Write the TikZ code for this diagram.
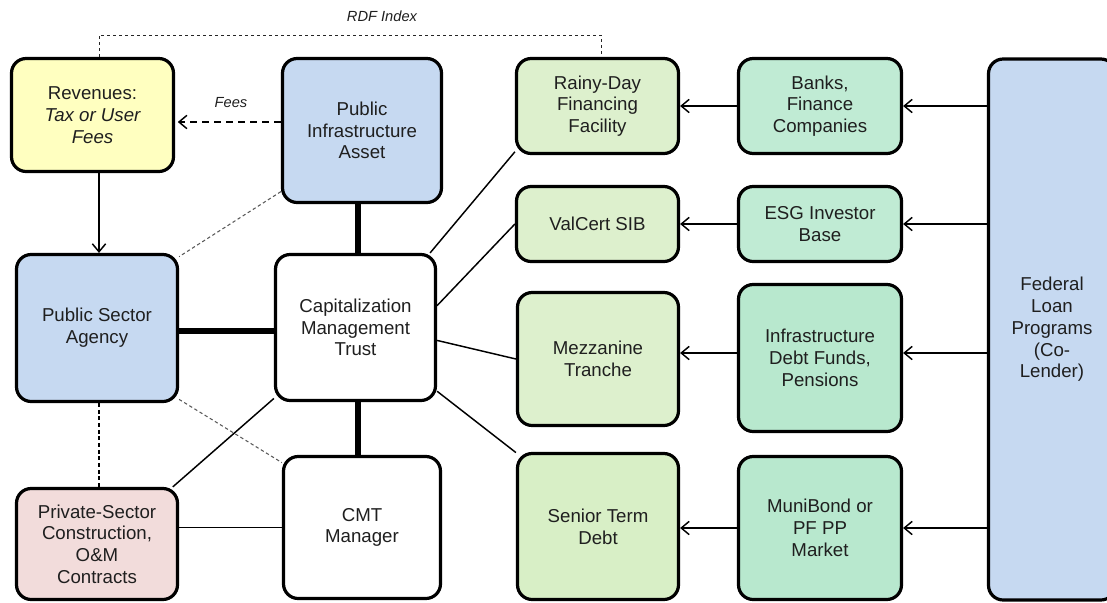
\documentclass[tikz,border=0pt]{standalone}
\usepackage{fontspec}
\setmainfont{Liberation Sans}
\usetikzlibrary{arrows.meta,calc}
\definecolor{cyel}{HTML}{FFFFC0}
\definecolor{cblue}{HTML}{C6D9F1}
\definecolor{cgreenA}{HTML}{DDF0CD}
\definecolor{cgreenB}{HTML}{D8EFC6}
\definecolor{ctealA}{HTML}{C0EBD4}
\definecolor{ctealB}{HTML}{B8E8CE}
\definecolor{cpink}{HTML}{F2DCDB}
\definecolor{ctext}{HTML}{1F1F1F}
\tikzset{
  box/.style={draw=black, line width=2.4pt, rounded corners=11pt, align=center,
    inner sep=2pt, text=ctext, font=\fontsize{14}{16.3}\selectfont},
  thickcon/.style={line width=3.8pt},
  thincon/.style={line width=1.1pt},
  graydot/.style={draw=black!65, line width=0.8pt, dash pattern=on 2.5pt off 2pt},
  blackdash/.style={draw=black!85, line width=0.7pt, dash pattern=on 2.5pt off 2pt},
  feesdash/.style={line width=1.1pt, dash pattern=on 5pt off 4pt},
  openarrow/.style={-{Straight Barb[length=6pt,width=10pt,line width=1.1pt]}, line width=1.1pt},
  lbl/.style={text=ctext, font=\itshape\fontsize{11}{13}\selectfont},
}
\begin{document}
\begin{tikzpicture}[x=0.75pt,y=-0.75pt]
\useasboundingbox (0,0) rectangle (1107,603);
\clip (0,0) rectangle (1107,603);
% boxes
\node[box, fill=cyel, minimum width=162*0.75pt, minimum height=113*0.75pt] (rev) at (92.5,115)
  {Revenues:\\\itshape Tax or User\\\itshape Fees};
\node[box, fill=cblue, minimum width=159*0.75pt, minimum height=144*0.75pt] (pia) at (362,130.5)
  {Public\\Infrastructure\\Asset};
\node[box, fill=cgreenA, minimum width=162*0.75pt, minimum height=95*0.75pt] (rainy) at (597.5,106)
  {Rainy-Day\\Financing\\Facility};
\node[box, fill=ctealA, minimum width=163*0.75pt, minimum height=95*0.75pt] (banks) at (820,106)
  {Banks,\\Finance\\Companies};
\node[box, fill=cgreenA, minimum width=162*0.75pt, minimum height=75*0.75pt] (valcert) at (597.5,224)
  {ValCert SIB};
\node[box, fill=ctealA, minimum width=163*0.75pt, minimum height=75*0.75pt] (esg) at (820,224)
  {ESG Investor\\Base};
\node[box, fill=cgreenA, minimum width=161*0.75pt, minimum height=133*0.75pt] (mezz) at (598,359)
  {Mezzanine\\Tranche};
\node[box, fill=ctealB, minimum width=163*0.75pt, minimum height=147*0.75pt] (infra) at (820,358)
  {Infrastructure\\Debt Funds,\\Pensions};
\node[box, fill=cgreenB, minimum width=161*0.75pt, minimum height=146*0.75pt] (senior) at (598,526.5)
  {Senior Term\\Debt};
\node[box, fill=ctealB, minimum width=163*0.75pt, minimum height=143*0.75pt] (muni) at (820,528)
  {MuniBond or\\PF PP\\Market};
\node[box, fill=cblue, minimum width=127*0.75pt, minimum height=541*0.75pt] (fed) at (1052,329.5)
  {Federal\\Loan\\Programs\\(Co-\\Lender)};
\node[box, fill=cblue, minimum width=161*0.75pt, minimum height=147*0.75pt] (psa) at (97,328)
  {Public Sector\\Agency};
\node[box, fill=white, minimum width=160*0.75pt, minimum height=146*0.75pt] (cmt) at (355.5,327.5)
  {Capitalization\\Management\\Trust};
\node[box, fill=cpink, minimum width=161*0.75pt, minimum height=111*0.75pt] (priv) at (97,544)
  {Private-Sector\\Construction,\\O\&M\\Contracts};
\node[box, fill=white, minimum width=157*0.75pt, minimum height=142*0.75pt] (mgr) at (362,527.5)
  {CMT\\Manager};
% RDF index dashed line
\coordinate (rdfL) at (99,35);
\coordinate (rdfR) at (601,35);
\draw[blackdash] (rev.north -| rdfL) -- (rdfL) -- (rdfR) -- (rainy.north -| rdfR);
\node[lbl] (rdf) at (382,16) {RDF Index};
% Fees
\coordinate (feesY) at (0,122);
\draw[feesdash, -{Straight Barb[length=6pt,width=10pt,line width=1.1pt]}]
  (pia.west |- feesY) -- ([xshift=2pt]rev.east |- feesY);
\node[lbl] (fees) at (231,103) {Fees};
% revenues to agency
\draw[openarrow] (rev.south -| rdfL) -- (psa.north -| rdfL);
% thick links
\coordinate (thx) at (358,0);
\draw[thickcon] (pia.south -| thx) -- (cmt.north -| thx);
\draw[thickcon] (cmt.south -| thx) -- (mgr.north -| thx);
\draw[thickcon] (psa.east |- 0,331) -- (cmt.west |- 0,331);
% gray dotted
\draw[graydot] (pia.217) -- (psa.41);
\draw[graydot] (psa.-41) -- (mgr.141);
% dashed agency - private
\draw[blackdash, draw=black, line width=0.8pt, dash pattern=on 3pt off 2pt] (psa.south -| rdfL) -- (priv.north -| rdfL);
% thin solid
\draw[thincon] (priv.37) -- (cmt.221);
\draw[thincon] (priv.east |- mgr.west) -- (mgr.west);
\draw[thincon] (cmt.45) -- (rainy.209);
\draw[thincon] (cmt.15) -- (valcert.west);
\draw[thincon] (cmt.-9) -- (mezz.west);
\draw[thincon] (cmt.-38) -- (senior.138);
% arrows right side
\coordinate (infY) at (0,353);
\draw[openarrow] (banks.west) -- (rainy.east);
\draw[openarrow] (esg.west) -- (valcert.east);
\draw[openarrow] (infra.west |- infY) -- (mezz.east |- infY);
\draw[openarrow] (muni.west) -- (senior.east |- muni.west);
\draw[openarrow] (fed.west |- banks.east) -- (banks.east);
\draw[openarrow] (fed.west |- esg.east) -- (esg.east);
\draw[openarrow] (fed.west |- infY) -- (infra.east |- infY);
\draw[openarrow] (fed.west |- muni.east) -- (muni.east);
\end{tikzpicture}
\end{document}
